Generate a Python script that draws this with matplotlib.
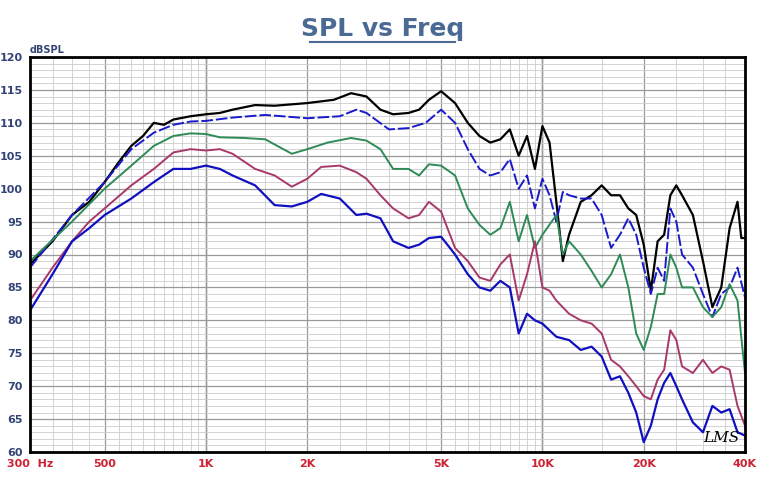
import numpy as np
import matplotlib
matplotlib.use("Agg")
import matplotlib.pyplot as plt
from matplotlib.ticker import FixedLocator, NullFormatter

# Traces: (freq Hz, dB SPL)
black_f = [300,350,400,450,500,550,600,650,700,750,800,900,1000,1100,1200,1400,1600,2000,2400,2700,3000,3300,3600,4000,4300,4600,5000,5500,6000,6500,7000,7500,8000,8500,9000,9500,10000,10500,11000,11500,12000,13000,14000,15000,16000,17000,18000,19000,20000,21000,22000,23000,24000,25000,26000,28000,30000,32000,34000,36000,38000,39000,40000]
black_db = [88.5,92,96,98,101,104,106.5,108,110,109.7,110.5,111,111.3,111.5,112,112.7,112.6,113,113.5,114.5,114,112,111.3,111.5,112,113.5,114.8,113,110,108,107,107.5,109,105,108,103,109.5,107,98,89,93,98,99,100.5,99,99,97,96,91.5,84.5,92,93,99,100.5,99,96,89,82,85,94,98,92.5,92.5]

dash_f = [300,400,500,600,700,800,900,1000,1200,1500,2000,2500,2800,3000,3500,4000,4500,5000,5500,6000,6500,7000,7500,8000,8500,9000,9500,10000,10500,11000,11500,12000,13000,14000,15000,16000,17000,18000,19000,20000,21000,22000,23000,24000,25000,26000,28000,30000,32000,34000,36000,38000,40000]
dash_db = [88,96,101,106,108.5,109.7,110.2,110.3,110.8,111.2,110.7,111,112,111.5,109,109.2,110,112,110,106,103,102,102.5,104.5,100,102,97,101.5,99,95,99.5,99,98.5,98.5,96,91,93,95.5,93,88,84,88,86,97,95,90,88,84,80.5,84,85,88,83.5]

green_f = [300,400,500,600,700,800,900,1000,1100,1300,1500,1800,2000,2300,2700,3000,3300,3600,4000,4300,4600,5000,5500,6000,6500,7000,7500,8000,8500,9000,9500,10000,11000,11500,12000,13000,14000,15000,16000,17000,18000,19000,20000,21000,22000,23000,24000,25000,26000,28000,30000,32000,34000,36000,38000,40000]
green_db = [89,95,100,103.5,106.5,108,108.4,108.3,107.8,107.7,107.5,105.3,106,107,107.7,107.3,106,103,103,102,103.7,103.5,102,97,94.5,93,94,98,92,96,91,93,96,90,92,90,87.5,85,87,90,85,78,75.5,79,84,84,90,88,85,85,82,80.5,82,85.5,83,72]

maroon_f = [300,350,400,450,500,600,700,800,900,1000,1100,1200,1400,1600,1800,2000,2200,2500,2800,3000,3300,3600,4000,4300,4600,5000,5500,6000,6500,7000,7500,8000,8500,9000,9500,10000,10500,11000,12000,13000,14000,15000,16000,17000,18000,19000,20000,21000,22000,23000,24000,25000,26000,28000,30000,32000,34000,36000,38000,40000]
maroon_db = [83,88,92,95,97,100.5,103,105.5,106,105.8,106,105.3,103,102,100.3,101.5,103.3,103.5,102.5,101.5,99,97,95.5,96,98,96.5,91,89,86.5,86,88.5,90,83,87,92,85,84.5,83,81,80,79.5,78,74,73,71.5,70,68.5,68,71,72.5,78.5,77,73,72,74,72,73,72.5,67,64]

blue_f = [300,350,400,450,500,600,700,800,900,1000,1100,1200,1400,1600,1800,2000,2200,2500,2800,3000,3300,3600,4000,4300,4600,5000,5500,6000,6500,7000,7500,8000,8500,9000,9500,10000,11000,12000,13000,14000,15000,16000,17000,18000,19000,20000,21000,22000,23000,24000,25000,26000,28000,30000,32000,34000,36000,38000,40000]
blue_db = [81.5,87,92,94,96,98.5,101,103,103,103.5,103,102,100.5,97.5,97.3,98,99.2,98.5,96,96.2,95.5,92,91,91.5,92.5,92.7,90,87,85,84.5,86,85,78,81,80,79.5,77.5,77,75.5,76,74.5,71,71.5,69,66,61.5,64,68,70.5,72,70,68,64.5,63,67,66,66.5,63,62.5]

tick_f = [300, 500, 1000, 2000, 5000, 10000, 20000, 40000]
tick_lab = ["300  Hz", "500", "1K", "2K", "5K", "10K", "20K", "40K"]

fig = plt.figure(figsize=(7.65, 4.8), dpi=100)
ax = fig.add_axes([30/765, 28/480, 715/765, 395/480])

ax.plot(black_f, black_db, color="black", lw=1.6)
ax.plot(dash_f, dash_db, color="#1a1acc", lw=1.4, ls=(0, (6, 1.5)))
ax.plot(green_f, green_db, color="#2e8b57", lw=1.4)
ax.plot(maroon_f, maroon_db, color="#a8386a", lw=1.4)
ax.plot(blue_f, blue_db, color="#1010c0", lw=1.6)

ax.set_xscale("log")
ax.set_xlim(300, 40000)
ax.set_ylim(60, 120)

# fine log grid
minors = []
for dec in [100, 1000, 10000]:
    for m in np.arange(1, 10, 0.5):
        f = m * dec
        if 300 <= f <= 40000:
            minors.append(f)
ax.xaxis.set_major_locator(FixedLocator(tick_f))
ax.xaxis.set_minor_locator(FixedLocator(minors))
ax.xaxis.set_minor_formatter(NullFormatter())
ax.set_xticklabels(tick_lab)
ax.set_yticks(np.arange(60, 121, 5))
ax.set_yticks(np.arange(60, 121, 1), minor=True)

ax.grid(which="major", color="#999999", lw=0.9)
ax.grid(which="minor", color="#cccccc", lw=0.6)
for v in [1000, 10000]:
    ax.axvline(v, color="#888888", lw=1.0, zorder=0)
ax.set_axisbelow(True)

ax.tick_params(which="both", length=0, pad=5)
for lab in ax.get_xticklabels():
    lab.set_color("#cc2233"); lab.set_fontweight("bold"); lab.set_fontsize(8)
for lab in ax.get_yticklabels():
    lab.set_color("#334477"); lab.set_fontweight("bold"); lab.set_fontsize(8)
for s in ax.spines.values():
    s.set_linewidth(2)

fig.text(30/765, 423/480 + 0.005, "dBSPL", color="#334477", fontsize=7, fontweight="bold", va="bottom")
t = fig.text(0.5, 0.94, "SPL vs Freq", ha="center", va="center", fontsize=18,
             fontweight="bold", color="#4a6a94")
fig.add_artist(plt.Line2D([0.405, 0.595], [0.912, 0.912], color="#4a6a94", lw=1.5))
ax.text(30000, 61.5, "LMS", fontsize=11, style="italic", family="DejaVu Serif")

fig.savefig("out.png", dpi=100)
